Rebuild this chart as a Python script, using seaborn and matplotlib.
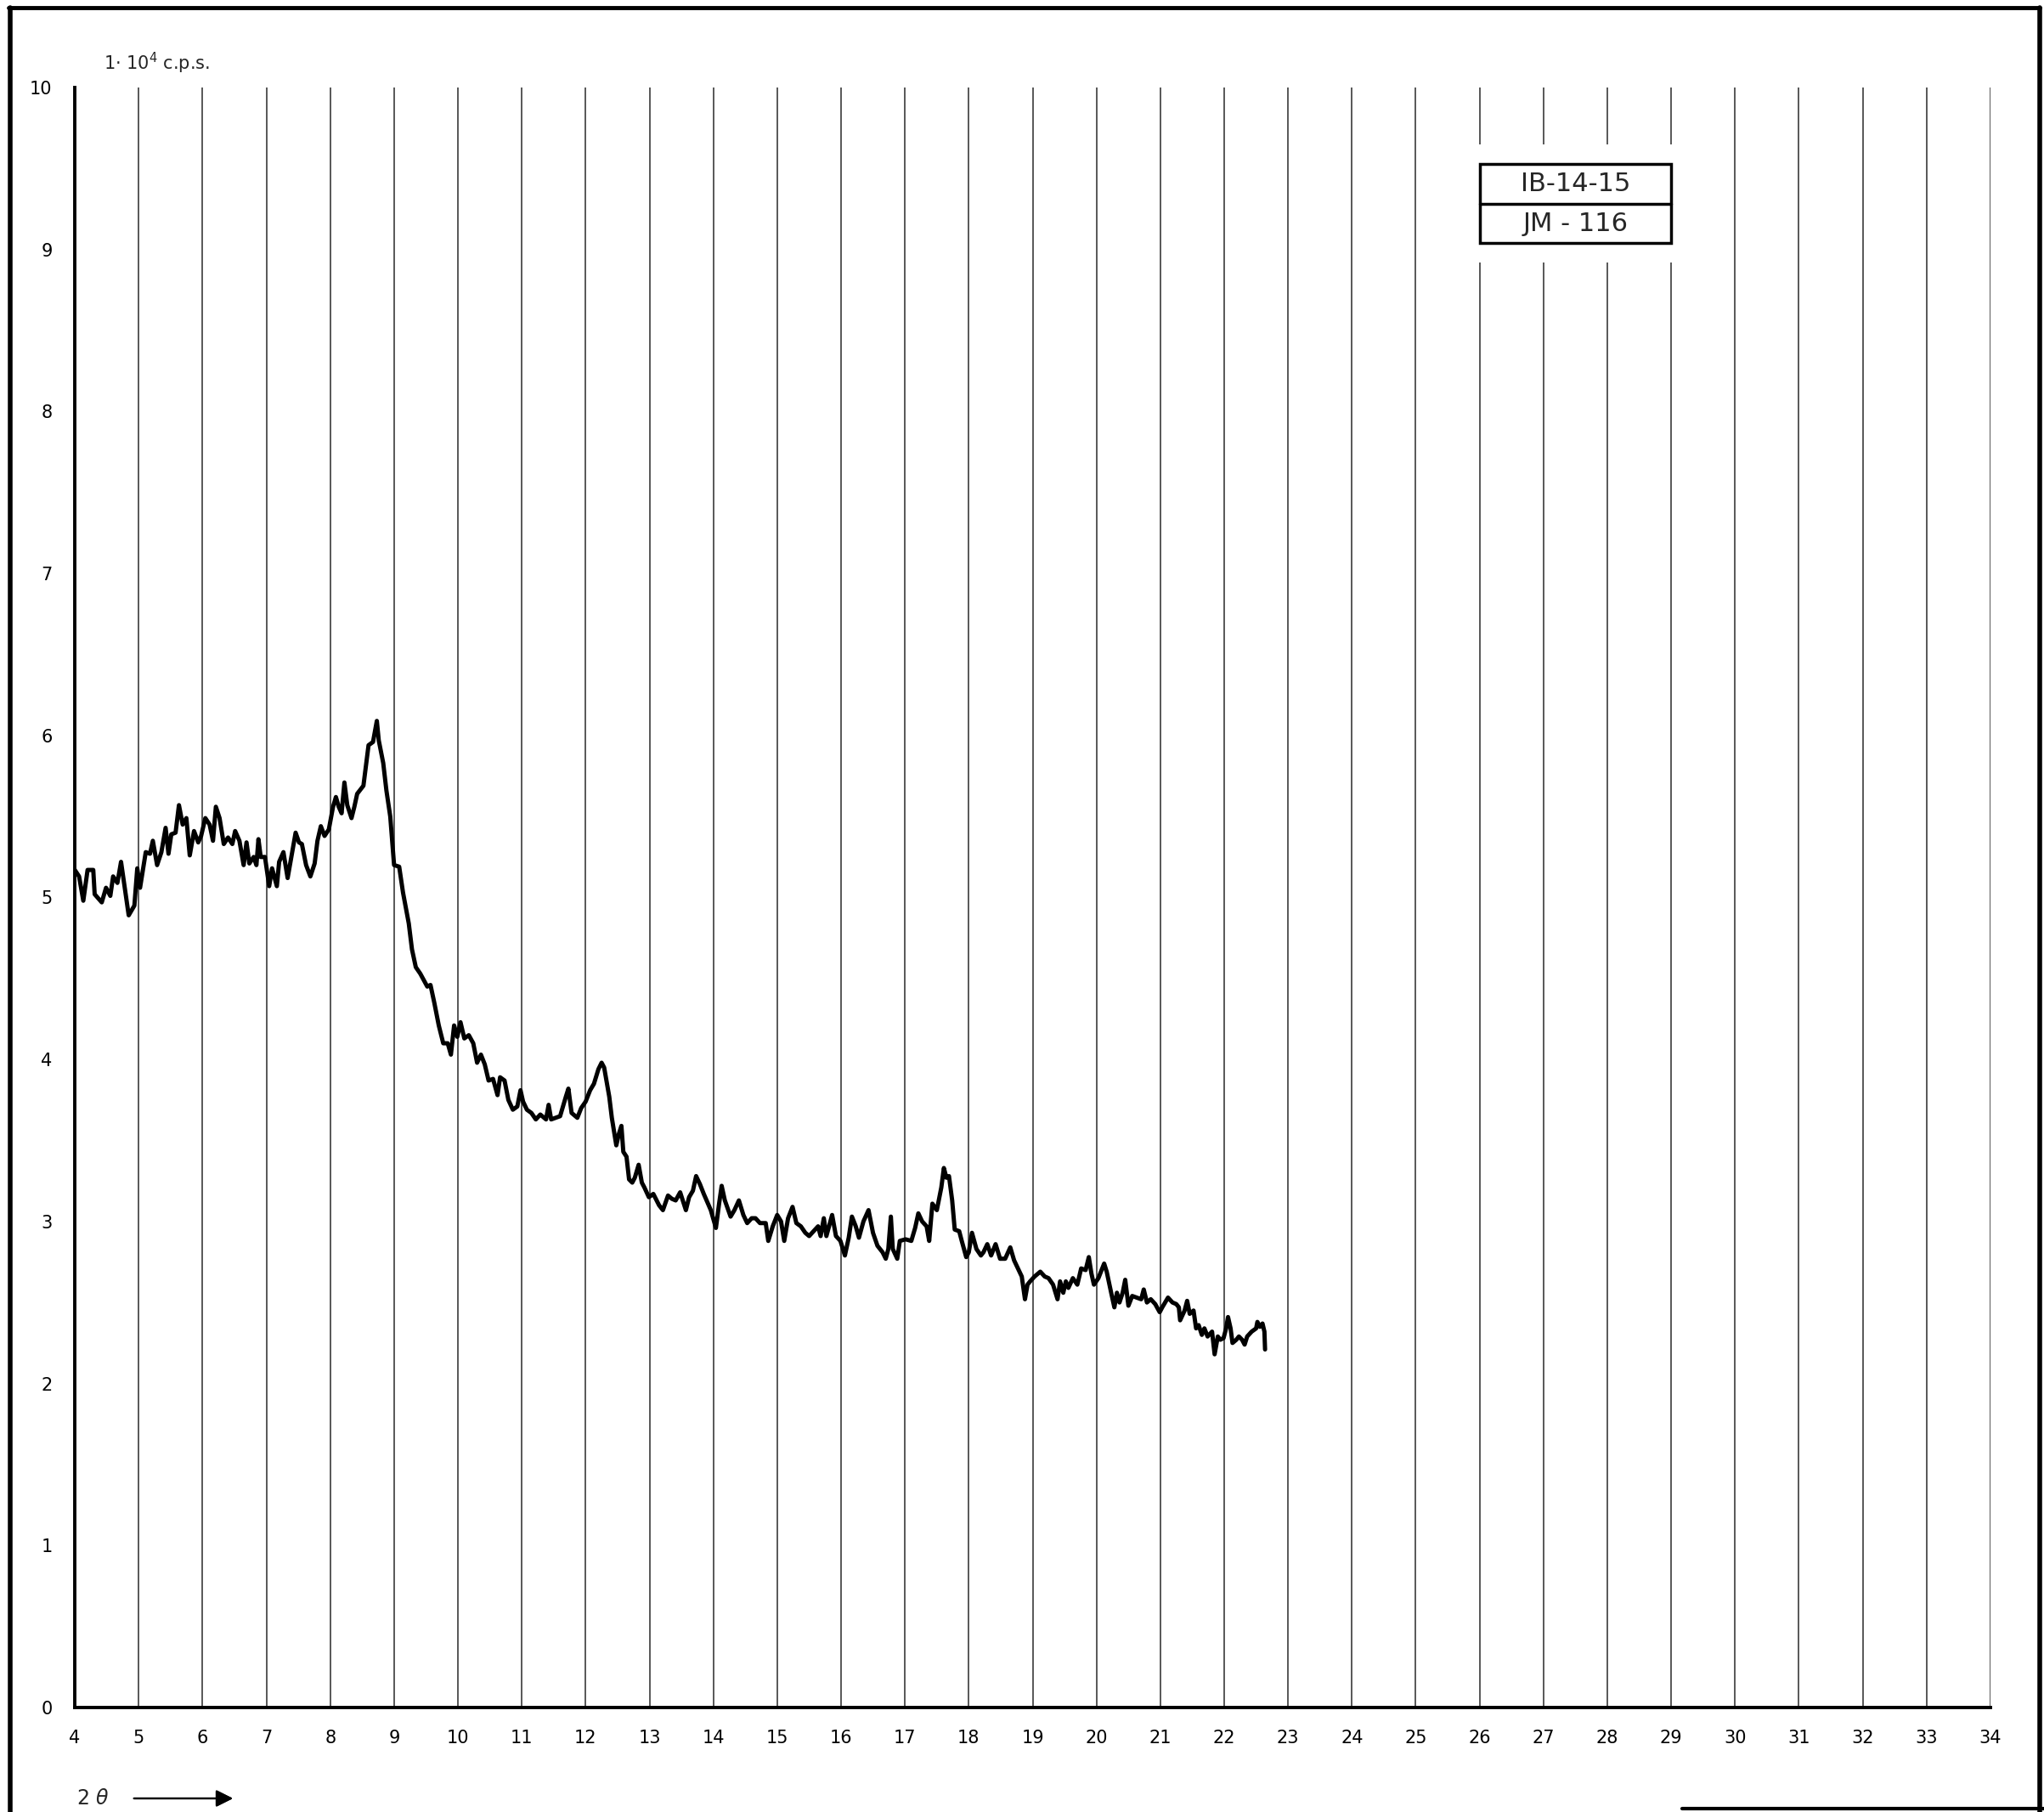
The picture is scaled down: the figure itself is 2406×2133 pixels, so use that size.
import numpy as np
import pandas as pd
import matplotlib
matplotlib.use("Agg")
import matplotlib.pyplot as plt
import seaborn as sns
from matplotlib.patches import Rectangle
from matplotlib.lines import Line2D

# ---- data (2-theta in degrees, intensity in 1e4 c.p.s.) ----
two_theta = [
    4.0, 4.067, 4.133, 4.2, 4.289, 4.311, 4.422, 4.489, 4.556, 4.6, 4.667, 4.724, 4.778, 4.844, 4.933, 4.978,
    5.022, 5.111, 5.178, 5.222, 5.289, 5.356, 5.422, 5.467, 5.511, 5.578, 5.631, 5.689, 5.747, 5.8, 5.867, 5.933, 5.978,
    6.044, 6.111, 6.164, 6.209, 6.267, 6.333, 6.4, 6.467, 6.511, 6.578, 6.644, 6.689, 6.733, 6.8, 6.844, 6.876, 6.911, 6.978,
    7.044, 7.089, 7.164, 7.2, 7.267, 7.333, 7.4, 7.458, 7.511, 7.556, 7.622, 7.689, 7.756, 7.8, 7.853, 7.911, 7.978,
    8.044, 8.089, 8.133, 8.178, 8.222, 8.267, 8.333, 8.378, 8.422, 8.52, 8.6, 8.67, 8.73, 8.76, 8.83, 8.88, 8.94,
    9.0, 9.08, 9.14, 9.23, 9.28, 9.34, 9.41, 9.52, 9.57, 9.63, 9.7, 9.77, 9.84, 9.89, 9.94, 9.99,
    10.04, 10.1, 10.17, 10.24, 10.3, 10.36, 10.42, 10.48, 10.55, 10.62, 10.66, 10.73, 10.79, 10.86, 10.93, 10.98,
    11.02, 11.08, 11.15, 11.22, 11.29, 11.38, 11.42, 11.46, 11.6, 11.69, 11.73, 11.78, 11.87, 11.93,
    12.0, 12.07, 12.13, 12.2, 12.25, 12.29, 12.37, 12.41, 12.48, 12.52, 12.56, 12.59, 12.64, 12.68, 12.73, 12.77,
    12.83, 12.88, 12.92, 12.99, 13.06, 13.15, 13.21, 13.29, 13.35, 13.41, 13.48, 13.57, 13.62, 13.68, 13.73, 13.79,
    13.85, 13.96, 14.04, 14.09, 14.13, 14.18, 14.27, 14.33, 14.4, 14.47, 14.53, 14.6, 14.66, 14.73, 14.82, 14.86, 14.93,
    15.0, 15.06, 15.11, 15.17, 15.24, 15.3, 15.37, 15.44, 15.5, 15.57, 15.64, 15.68, 15.73, 15.77, 15.86, 15.92, 15.99,
    16.06, 16.12, 16.17, 16.23, 16.28, 16.35, 16.43, 16.5, 16.57, 16.65, 16.7, 16.74, 16.78, 16.81, 16.88, 16.92,
    17.01, 17.1, 17.16, 17.21, 17.27, 17.34, 17.38, 17.43, 17.5, 17.57, 17.61, 17.65, 17.69, 17.74, 17.78, 17.85, 17.89, 17.96,
    18.0, 18.05, 18.12, 18.19, 18.23, 18.29, 18.35, 18.42, 18.49, 18.57, 18.65, 18.71, 18.83, 18.88, 18.92, 18.96,
    19.03, 19.12, 19.19, 19.25, 19.32, 19.39, 19.43, 19.48, 19.52, 19.56, 19.63, 19.7, 19.76, 19.83, 19.88, 19.92, 19.96,
    20.03, 20.12, 20.16, 20.23, 20.28, 20.32, 20.36, 20.41, 20.45, 20.5, 20.56, 20.63, 20.7, 20.74, 20.79, 20.85, 20.92, 20.99,
    21.03, 21.12, 21.19, 21.25, 21.29, 21.31, 21.38, 21.42, 21.46, 21.52, 21.56, 21.6, 21.65, 21.69, 21.74, 21.81, 21.85,
    21.9, 21.94, 21.99, 22.03, 22.06, 22.1, 22.13, 22.19, 22.23, 22.28, 22.32, 22.36, 22.43, 22.5, 22.52, 22.56, 22.6,
    22.63, 22.64,
]
intensity = [
    5.17, 5.13, 4.98, 5.17, 5.17, 5.02, 4.97, 5.06, 5.01, 5.13, 5.09, 5.22, 5.07, 4.89, 4.95, 5.18,
    5.06, 5.28, 5.27, 5.35, 5.2, 5.28, 5.43, 5.27, 5.39, 5.4, 5.57, 5.45, 5.49, 5.26, 5.41, 5.34, 5.38,
    5.49, 5.45, 5.35, 5.56, 5.49, 5.33, 5.37, 5.33, 5.41, 5.35, 5.2, 5.34, 5.21, 5.25, 5.2, 5.36, 5.25, 5.25,
    5.07, 5.18, 5.07, 5.22, 5.28, 5.12, 5.27, 5.4, 5.34, 5.33, 5.2, 5.13, 5.21, 5.35, 5.44, 5.38, 5.42,
    5.56, 5.62, 5.56, 5.52, 5.71, 5.57, 5.49, 5.56, 5.64, 5.69, 5.94, 5.96, 6.09, 5.97, 5.83, 5.66, 5.5,
    5.2, 5.19, 5.03, 4.84, 4.68, 4.57, 4.53, 4.45, 4.46, 4.35, 4.21, 4.1, 4.1, 4.03, 4.21, 4.14,
    4.23, 4.13, 4.15, 4.1, 3.98, 4.03, 3.97, 3.87, 3.88, 3.78, 3.89, 3.87, 3.75, 3.69, 3.71, 3.81,
    3.74, 3.69, 3.67, 3.63, 3.66, 3.63, 3.72, 3.63, 3.65, 3.77, 3.82, 3.67, 3.64, 3.7,
    3.74, 3.81, 3.85, 3.94, 3.98, 3.95, 3.77, 3.64, 3.47, 3.54, 3.59, 3.43, 3.4, 3.26, 3.24, 3.27,
    3.35, 3.24, 3.21, 3.15, 3.17, 3.1, 3.07, 3.16, 3.14, 3.13, 3.18, 3.07, 3.15, 3.19, 3.28, 3.23,
    3.17, 3.07, 2.96, 3.11, 3.22, 3.13, 3.03, 3.07, 3.13, 3.04, 2.99, 3.02, 3.02, 2.99, 2.99, 2.88, 2.97,
    3.04, 3.0, 2.88, 3.02, 3.09, 2.99, 2.97, 2.93, 2.91, 2.94, 2.97, 2.91, 3.02, 2.91, 3.04, 2.91, 2.88,
    2.79, 2.9, 3.03, 2.97, 2.9, 3.0, 3.07, 2.93, 2.85, 2.81, 2.77, 2.83, 3.03, 2.83, 2.77, 2.88,
    2.89, 2.88, 2.96, 3.05, 3.0, 2.97, 2.88, 3.11, 3.07, 3.21, 3.33, 3.27, 3.28, 3.13, 2.95, 2.94, 2.88, 2.78,
    2.81, 2.93, 2.83, 2.79, 2.81, 2.86, 2.79, 2.86, 2.77, 2.77, 2.84, 2.76, 2.66, 2.52, 2.61, 2.63,
    2.66, 2.69, 2.66, 2.65, 2.61, 2.52, 2.63, 2.56, 2.63, 2.59, 2.65, 2.61, 2.71, 2.7, 2.78, 2.68, 2.61,
    2.65, 2.74, 2.69, 2.56, 2.47, 2.56, 2.5, 2.56, 2.64, 2.48, 2.54, 2.53, 2.52, 2.58, 2.5, 2.52, 2.49, 2.44,
    2.47, 2.53, 2.5, 2.49, 2.47, 2.39, 2.45, 2.51, 2.43, 2.45, 2.34, 2.36, 2.3, 2.34, 2.29, 2.32, 2.18,
    2.29, 2.27, 2.28, 2.34, 2.41, 2.34, 2.25, 2.27, 2.29, 2.27, 2.24, 2.29, 2.32, 2.34, 2.38, 2.35, 2.37,
    2.32, 2.21,
]

x_ticks = list(range(4, 35))
y_ticks = list(range(0, 11))
sample_labels = ["IB-14-15", "JM - 116"]

df = pd.DataFrame({"two_theta": two_theta, "intensity": intensity})

# ---- style ----
sns.set_style("white")
plt.rcParams["font.family"] = ["DejaVu Sans"]

fig = plt.figure(figsize=(24.06, 21.33), dpi=100)
ax = fig.add_axes([0.0366, 0.0577, 0.9372, 0.894])

sns.lineplot(data=df, x="two_theta", y="intensity", color="black", linewidth=3.6,
             estimator=None, sort=False, ax=ax, zorder=3)

ax.set_xlim(4, 34)
ax.set_ylim(0, 10)
ax.set_xticks(x_ticks)
ax.set_yticks(y_ticks)
ax.set_xlabel("")
ax.set_ylabel("")

# vertical chart-paper lines at every degree
ax.set_axisbelow(True)
ax.grid(axis="x", color="#4a4a4a", linewidth=1.3)
ax.grid(axis="y", visible=False)

for side in ["top", "right"]:
    ax.spines[side].set_visible(False)
for side in ["left", "bottom"]:
    ax.spines[side].set_color("black")
    ax.spines[side].set_linewidth(2.8)

ax.tick_params(axis="x", direction="inout", length=14, width=2, labelsize=15, pad=12, colors="black")
ax.tick_params(axis="y", direction="out", length=11, width=2, labelsize=15, pad=8, colors="black")

# sample label box (gridlines broken around it)
ax.add_patch(Rectangle((25.9, 8.92), 3.2, 0.73, facecolor="white", edgecolor="none", zorder=1))
ax.add_patch(Rectangle((26, 9.04), 3, 0.49, fill=False, edgecolor="black", linewidth=2.5, zorder=4))
ax.plot([26, 29], [9.28, 9.28], color="black", linewidth=2.5, zorder=4)
ax.text(27.5, 9.405, sample_labels[0], ha="center", va="center", fontsize=22, zorder=5)
ax.text(27.5, 9.16, sample_labels[1], ha="center", va="center", fontsize=22, zorder=5)

# axis annotations
fig.text(0.0507, 0.9616, "1· 10$^4$ c.p.s.", fontsize=15, ha="left", va="baseline")
fig.text(0.0374, 0.0075, r"2 $\theta$", fontsize=17, ha="left", va="center")
fig.add_artist(plt.annotate("", xy=(0.1151, 0.0075), xytext=(0.0644, 0.0075),
                            xycoords="figure fraction", textcoords="figure fraction",
                            arrowprops=dict(arrowstyle="-|>", color="black", lw=1.6, mutation_scale=30)))

# scanned sheet border
fig.add_artist(Line2D([0.004, 0.998], [0.996, 0.996], color="black", lw=3.5, transform=fig.transFigure))
fig.add_artist(Line2D([0.005, 0.005], [0.0, 0.996], color="black", lw=4, transform=fig.transFigure))
fig.add_artist(Line2D([0.998, 0.998], [0.0, 0.996], color="black", lw=4, transform=fig.transFigure))
fig.add_artist(Line2D([0.823, 1.0], [0.002, 0.002], color="black", lw=3, transform=fig.transFigure))

fig.savefig("out.png", dpi=100)
